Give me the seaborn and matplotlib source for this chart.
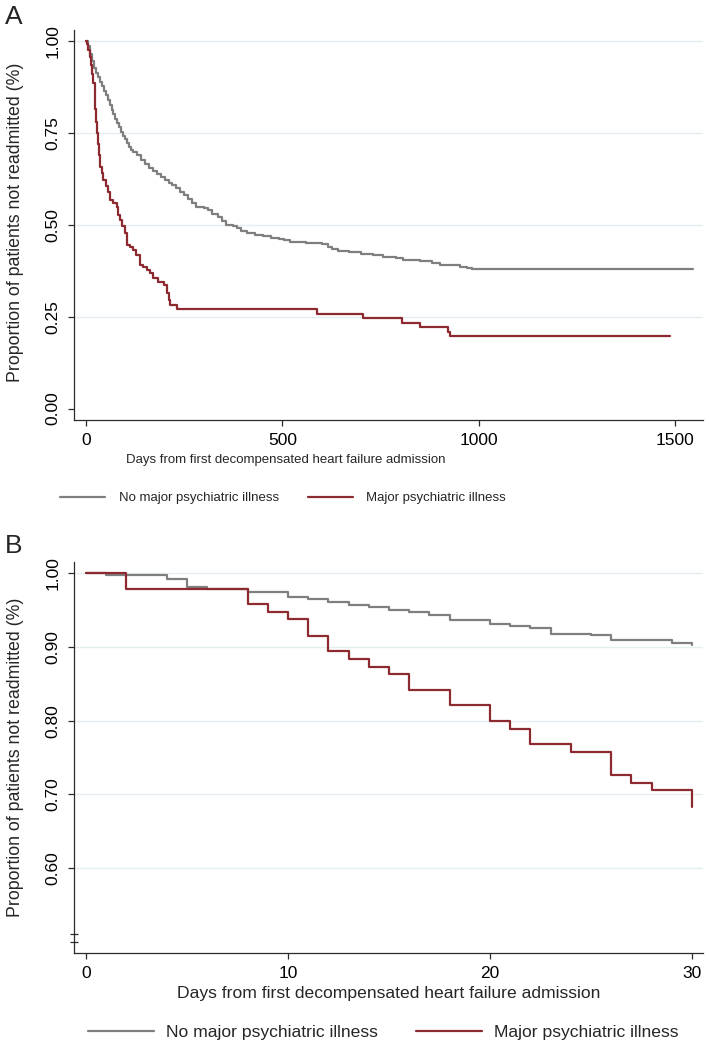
import matplotlib
matplotlib.use("Agg")
import matplotlib.pyplot as plt
from matplotlib import font_manager
from matplotlib.ticker import FormatStrFormatter, FixedLocator
import seaborn as sns
import pandas as pd

# ---------------- data ----------------
groups = ["No major psychiatric illness", "Major psychiatric illness"]

# Panel A (Kaplan-Meier, full follow-up)
a_days_no = [0, 5, 10, 15, 20, 25, 30, 35, 40, 45, 50, 55, 60, 65, 70, 75, 80, 85, 90, 95,
             100, 105, 110, 115, 120, 130, 140, 150, 160, 170, 180, 190, 200, 210, 220, 230,
             240, 250, 260, 270, 280, 300, 310, 320, 335, 345, 355, 375, 385, 395, 410, 430,
             450, 470, 490, 505, 520, 540, 560, 600, 615, 625, 640, 670, 700, 730, 756, 790,
             807, 850, 880, 900, 940, 952, 970, 981, 1545]
a_surv_no = [1.000, 0.985, 0.965, 0.945, 0.925, 0.912, 0.900, 0.888, 0.876, 0.864, 0.852, 0.838,
             0.826, 0.812, 0.800, 0.788, 0.776, 0.765, 0.752, 0.742, 0.733, 0.722, 0.712, 0.703,
             0.697, 0.688, 0.675, 0.664, 0.655, 0.646, 0.638, 0.630, 0.622, 0.613, 0.609, 0.600,
             0.590, 0.580, 0.569, 0.559, 0.549, 0.545, 0.540, 0.530, 0.520, 0.510, 0.500, 0.497,
             0.490, 0.482, 0.476, 0.473, 0.468, 0.465, 0.462, 0.458, 0.454, 0.452, 0.449, 0.447,
             0.440, 0.434, 0.428, 0.425, 0.421, 0.418, 0.413, 0.409, 0.404, 0.401, 0.396, 0.390,
             0.389, 0.386, 0.382, 0.379, 0.379]

a_days_psy = [0, 3, 6, 10, 13, 16, 19, 22, 24, 26, 28, 30, 33, 36, 40, 44, 50, 55, 61, 70, 78,
              82, 87, 92, 99, 104, 112, 120, 128, 137, 146, 154, 163, 171, 184, 199, 205, 210,
              214, 231, 587, 706, 803, 850, 920, 925, 1486]
a_surv_psy = [1.000, 0.990, 0.975, 0.955, 0.935, 0.910, 0.885, 0.850, 0.815, 0.780, 0.748, 0.720,
              0.690, 0.658, 0.640, 0.621, 0.605, 0.590, 0.567, 0.560, 0.549, 0.526, 0.513, 0.495,
              0.477, 0.445, 0.440, 0.431, 0.418, 0.390, 0.386, 0.377, 0.368, 0.356, 0.345, 0.336,
              0.313, 0.295, 0.282, 0.270, 0.257, 0.246, 0.234, 0.223, 0.209, 0.198, 0.198]

# Panel B (first 30 days)
b_days_no = [0, 1, 4, 5, 6, 8, 10, 11, 12, 13, 14, 15, 16, 17, 18, 20, 21, 22, 23, 25, 26, 29, 30]
b_surv_no = [1.000, 0.998, 0.992, 0.982, 0.978, 0.974, 0.968, 0.965, 0.961, 0.957, 0.954, 0.950,
             0.947, 0.944, 0.936, 0.931, 0.928, 0.926, 0.918, 0.916, 0.909, 0.906, 0.902]

b_days_psy = [0, 2, 8, 9, 10, 11, 12, 13, 14, 15, 16, 18, 20, 21, 22, 24, 26, 27, 28, 30]
b_surv_psy = [1.000, 0.978, 0.958, 0.948, 0.938, 0.915, 0.895, 0.884, 0.873, 0.863, 0.842, 0.821,
              0.800, 0.789, 0.768, 0.758, 0.726, 0.716, 0.706, 0.683]

a_xticks = [0, 500, 1000, 1500]
a_yticks = [0.00, 0.25, 0.50, 0.75, 1.00]
b_xticks = [0, 10, 20, 30]
b_yticks = [0.60, 0.70, 0.80, 0.90, 1.00]
b_break_ticks = [0.50, 0.51]

xlabel = "Days from first decompensated heart failure admission"
ylabel = "Proportion of patients not readmitted (%)"

# ---------------- style ----------------
sns.set_style("ticks")
plt.rcParams["font.family"] = ["Liberation Sans", "DejaVu Sans"]

names = {f.name for f in font_manager.fontManager.ttflist}
if "Liberation Sans Narrow" in names:
    narrow_family = ["Liberation Sans Narrow", "Liberation Sans"]
    narrow_size = 11.5
else:
    narrow_family = ["Liberation Sans", "DejaVu Sans"]
    narrow_size = 9.5

GRAY = "#7f7f7f"
RED = "#8c2a2f"
GRID = "#e4edf0"
AX = "#2b2b2b"
TICK_FS = 12.5
LABEL_FS = 12.8
W, H = 709, 1046

fig = plt.figure(figsize=(W / 100, H / 100), dpi=100)


def px_axes(l, t, r, b):
    return fig.add_axes([l / W, 1 - b / H, (r - l) / W, (b - t) / H])


axA = px_axes(74, 30, 703, 420)
axB = px_axes(74, 562, 703, 953)


def style_axes(ax, grid_vals):
    for s in ["top", "right"]:
        ax.spines[s].set_visible(False)
    for s in ["left", "bottom"]:
        ax.spines[s].set_color(AX)
        ax.spines[s].set_linewidth(0.9)
    ax.tick_params(direction="out", length=4.5, width=0.9, color=AX,
                   labelsize=TICK_FS, labelcolor="black")
    ax.tick_params(axis="y", pad=5)
    ax.tick_params(axis="x", pad=5)
    for v in grid_vals:
        ax.axhline(v, color=GRID, lw=1.0, zorder=0)
    for lab in ax.get_yticklabels():
        lab.set_rotation(90)
        lab.set_va("center")


def draw(ax, d1, s1, d2, s2):
    df1 = pd.DataFrame({"day": d1, "surv": s1})
    df2 = pd.DataFrame({"day": d2, "surv": s2})
    sns.lineplot(data=df1, x="day", y="surv", ax=ax, color=GRAY, lw=1.6,
                 drawstyle="steps-post", estimator=None, errorbar=None,
                 label=groups[0], zorder=3)
    sns.lineplot(data=df2, x="day", y="surv", ax=ax, color=RED, lw=1.6,
                 drawstyle="steps-post", estimator=None, errorbar=None,
                 label=groups[1], zorder=4)
    h, l = ax.get_legend_handles_labels()
    ax.get_legend().remove()
    return h, l


# ---------------- panel A ----------------
hA, lA = draw(axA, a_days_no, a_surv_no, a_days_psy, a_surv_psy)
axA.set_xlim(-30.5, 1570)
axA.set_ylim(-0.031, 1.029)
axA.set_xticks(a_xticks)
axA.set_yticks(a_yticks)
axA.yaxis.set_major_formatter(FormatStrFormatter("%.2f"))
style_axes(axA, [0.25, 0.50, 0.75, 1.00])
axA.set_xlabel(xlabel, fontsize=narrow_size, family=narrow_family)
axA.xaxis.label.set_va("center")
axA.xaxis.set_label_coords((286 - 74) / 629, -(460.5 - 420) / 390)
axA.set_ylabel(ylabel, fontsize=LABEL_FS)
axA.yaxis.set_label_coords(-0.079, 0.506)
fig.legend(hA, lA, loc="center", bbox_to_anchor=(283 / W, 1 - 498 / H), ncol=2,
           frameon=False, prop={"family": narrow_family, "size": narrow_size},
           handlelength=3.4, handletextpad=1.0, columnspacing=2.2)

# ---------------- panel B ----------------
hB, lB = draw(axB, b_days_no, b_surv_no, b_days_psy, b_surv_psy)
axB.set_xlim(-0.59, 30.54)
axB.set_ylim(0.4847, 1.0153)
axB.set_xticks(b_xticks)
axB.set_yticks(b_yticks)
axB.yaxis.set_major_formatter(FormatStrFormatter("%.2f"))
axB.yaxis.set_minor_locator(FixedLocator(b_break_ticks))
axB.tick_params(axis="y", which="minor", direction="inout", length=5.5, width=0.9, color=AX)
style_axes(axB, b_yticks)
axB.set_xlabel(xlabel, fontsize=12.6)
axB.xaxis.label.set_va("center")
axB.xaxis.set_label_coords(0.5, -(993.3 - 953) / 391)
axB.set_ylabel(ylabel, fontsize=LABEL_FS)
axB.yaxis.set_label_coords(-0.079, 0.5)
fig.legend(hB, lB, loc="center", bbox_to_anchor=(383 / W, 1 - 1032 / H), ncol=2,
           frameon=False, prop={"family": ["Liberation Sans", "DejaVu Sans"], "size": 12.6},
           handlelength=3.8, handletextpad=0.65, columnspacing=2.2)

# panel letters
fig.text(5 / W, 1 - 17 / H, "A", fontsize=19, ha="left", va="center")
fig.text(5 / W, 1 - 546 / H, "B", fontsize=19, ha="left", va="center")

fig.savefig("out.png", dpi=100)
